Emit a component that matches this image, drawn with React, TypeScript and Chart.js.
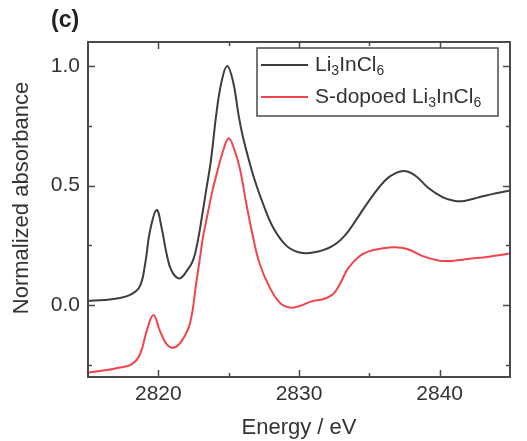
import React, { useEffect, useRef } from "react";
import { Chart, registerables } from "chart.js";

Chart.register(...registerables);

const panelLabel = "(c)";
const xTitle = "Energy / eV";
const yTitle = "Normalized absorbance";

const xMajorTicks = [2820, 2830, 2840];
const xMinorTicks = [2825, 2835];
const yMajorTicks = [0, 0.5, 1.0];
const yMinorTicks = [-0.25, 0.25, 0.75];

const pristineEnergy = [2815, 2816.2, 2817.16, 2818.1, 2818.7, 2819.06, 2819.41, 2819.88, 2820.23, 2820.59, 2820.94, 2821.47, 2821.99, 2822.46, 2822.81, 2823.1, 2823.4, 2823.75, 2824.14, 2824.49, 2824.89, 2825.32, 2825.67, 2825.95, 2826.4, 2826.86, 2827.45, 2828.16, 2829.1, 2830.05, 2831.0, 2832.3, 2833.24, 2834.1, 2834.9, 2836.1, 2836.9, 2837.6, 2838.3, 2839.2, 2840.2, 2841.0, 2841.75, 2842.8, 2844.0, 2845];
const pristineAbs = [0.018, 0.022, 0.029, 0.046, 0.081, 0.172, 0.311, 0.398, 0.325, 0.214, 0.144, 0.112, 0.14, 0.186, 0.27, 0.37, 0.48, 0.61, 0.807, 0.933, 1.0, 0.933, 0.807, 0.72, 0.615, 0.521, 0.423, 0.325, 0.249, 0.22, 0.22, 0.245, 0.29, 0.36, 0.43, 0.52, 0.553, 0.56, 0.54, 0.49, 0.452, 0.437, 0.436, 0.451, 0.468, 0.479];

const dopedEnergy = [2815, 2816.2, 2817.16, 2818.1, 2818.7, 2819.17, 2819.65, 2820.12, 2820.59, 2821.06, 2821.65, 2822.25, 2822.7, 2822.93, 2823.17, 2823.5, 2823.85, 2824.2, 2824.55, 2825.0, 2825.4, 2825.8, 2826.26, 2826.74, 2827.21, 2827.92, 2828.63, 2829.34, 2830.05, 2831.0, 2831.7, 2832.41, 2832.9, 2833.5, 2834.3, 2835.0, 2835.8, 2836.8, 2837.7, 2838.8, 2840.0, 2841.0, 2842.0, 2843.5, 2845];
const dopedAbs = [-0.282, -0.272, -0.261, -0.247, -0.205, -0.108, -0.041, -0.108, -0.163, -0.178, -0.15, -0.075, 0.095, 0.186, 0.283, 0.38, 0.48, 0.56, 0.635, 0.698, 0.65, 0.57, 0.423, 0.283, 0.172, 0.074, 0.011, -0.01, -0.003, 0.018, 0.025, 0.046, 0.088, 0.155, 0.205, 0.226, 0.236, 0.242, 0.235, 0.205, 0.186, 0.186, 0.193, 0.203, 0.216];

// legend labels as [text, isSubscript] pieces
const seriesNames: [string, boolean][][] = [
  [["Li", false], ["3", true], ["InCl", false], ["6", true]],
  [["S-dopoed Li", false], ["3", true], ["InCl", false], ["6", true]],
];
const seriesColors = ["#3d3d3d", "#f2444c"];

const FONT = "'Liberation Sans', Arial, sans-serif";
const TEXT = "#333333";
const FRAME = "#4a4a4a";

const framePlugin = {
  id: "frameTicks",
  afterDraw(chart: any) {
    const { ctx, chartArea: a, scales } = chart;
    const xs = scales.x;
    const ys = scales.y;
    ctx.save();
    ctx.strokeStyle = FRAME;
    ctx.lineWidth = 2;
    ctx.strokeRect(a.left, a.top, a.right - a.left, a.bottom - a.top);
    ctx.lineWidth = 1.5;
    const tick = (vals: number[], len: number, horiz: boolean) => {
      vals.forEach((v) => {
        ctx.beginPath();
        if (horiz) {
          const px = Math.round(xs.getPixelForValue(v)) + 0.5;
          ctx.moveTo(px, a.bottom);
          ctx.lineTo(px, a.bottom - len);
          ctx.moveTo(px, a.top);
          ctx.lineTo(px, a.top + len);
        } else {
          const py = Math.round(ys.getPixelForValue(v)) + 0.5;
          ctx.moveTo(a.left, py);
          ctx.lineTo(a.left + len, py);
          ctx.moveTo(a.right, py);
          ctx.lineTo(a.right - len, py);
        }
        ctx.stroke();
      });
    };
    tick(xMajorTicks, 7, true);
    tick(xMinorTicks, 4, true);
    tick(yMajorTicks, 7, false);
    tick(yMinorTicks, 4, false);

    // panel label
    ctx.fillStyle = "#222";
    ctx.font = `bold 23px ${FONT}`;
    ctx.textAlign = "left";
    ctx.textBaseline = "middle";
    ctx.fillText(panelLabel, 51, 21);

    // y title
    ctx.save();
    ctx.translate(22, 198);
    ctx.rotate(-Math.PI / 2);
    ctx.font = `22px ${FONT}`;
    ctx.fillStyle = TEXT;
    ctx.textAlign = "center";
    ctx.textBaseline = "middle";
    ctx.fillText(yTitle, 0, 0);
    ctx.restore();

    // legend
    const bx = 257, by = 48, bw = 241, bh = 68;
    ctx.fillStyle = "#ffffff";
    ctx.fillRect(bx, by, bw, bh);
    ctx.strokeStyle = FRAME;
    ctx.lineWidth = 1.5;
    ctx.strokeRect(bx, by, bw, bh);
    const rows = [65, 97];
    seriesNames.forEach((pieces, i) => {
      const y = rows[i];
      ctx.strokeStyle = seriesColors[i];
      ctx.lineWidth = 2;
      ctx.beginPath();
      ctx.moveTo(261, y);
      ctx.lineTo(308, y);
      ctx.stroke();
      let x = 315;
      ctx.fillStyle = TEXT;
      ctx.textAlign = "left";
      ctx.textBaseline = "middle";
      pieces.forEach(([t, sub]) => {
        ctx.font = sub ? `14px ${FONT}` : `21px ${FONT}`;
        ctx.fillText(t, x, sub ? y + 6 : y);
        x += ctx.measureText(t).width;
      });
    });
    ctx.restore();
  },
};

export default function App() {
  const ref = useRef<HTMLCanvasElement | null>(null);
  useEffect(() => {
    if (!ref.current) return;
    const chart = new Chart(ref.current, {
      type: "line",
      data: {
        datasets: [
          {
            label: "Li3InCl6",
            data: pristineEnergy.map((x, i) => ({ x, y: pristineAbs[i] })),
            borderColor: seriesColors[0],
            borderWidth: 2,
            pointRadius: 0,
            tension: 0.4,
            fill: false,
          },
          {
            label: "S-dopoed Li3InCl6",
            data: dopedEnergy.map((x, i) => ({ x, y: dopedAbs[i] })),
            borderColor: seriesColors[1],
            borderWidth: 2,
            pointRadius: 0,
            tension: 0.4,
            fill: false,
          },
        ],
      },
      options: {
        animation: false,
        responsive: false,
        events: [],
        layout: { padding: { left: 0, right: 17, top: 42, bottom: 0 } },
        plugins: { legend: { display: false }, tooltip: { enabled: false }, title: { display: false } },
        scales: {
          x: {
            type: "linear",
            min: 2815,
            max: 2845,
            afterBuildTicks: (s: any) => {
              s.ticks = [...xMajorTicks, ...xMinorTicks].sort((a, b) => a - b).map((v) => ({ value: v }));
            },
            afterFit: (s: any) => {
              s.height = 64;
            },
            grid: { display: false, drawTicks: false },
            border: { display: false },
            ticks: {
              autoSkip: false,
              maxRotation: 0,
              padding: 5,
              color: TEXT,
              font: { family: FONT, size: 21 },
              callback: (v: any) => (xMajorTicks.includes(Number(v)) ? String(v) : ""),
            },
            title: {
              display: true,
              text: xTitle,
              color: TEXT,
              font: { family: FONT, size: 22 },
              padding: { top: 0, bottom: 0 },
            },
          },
          y: {
            type: "linear",
            min: -0.3,
            max: 1.1,
            afterBuildTicks: (s: any) => {
              s.ticks = [...yMajorTicks, ...yMinorTicks].sort((a, b) => a - b).map((v) => ({ value: v }));
            },
            afterFit: (s: any) => {
              s.width = 88;
            },
            grid: { display: false, drawTicks: false },
            border: { display: false },
            ticks: {
              autoSkip: false,
              padding: 8,
              color: TEXT,
              font: { family: FONT, size: 21 },
              callback: (v: any) => (yMajorTicks.includes(Number(v)) ? Number(v).toFixed(1) : ""),
            },
          },
        },
      },
      plugins: [framePlugin],
    } as any);
    return () => chart.destroy();
  }, []);
  return (
    <div style={{ position: "absolute", left: 0, top: 0, width: 527, height: 441, background: "#fff" }}>
      <canvas ref={ref} width={527} height={441} style={{ display: "block" }} />
    </div>
  );
}
